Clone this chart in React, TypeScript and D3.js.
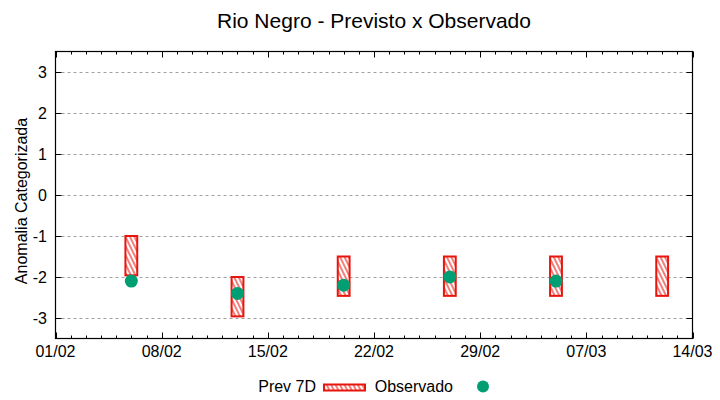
import React, { useEffect, useRef } from 'react';
import * as d3 from 'd3';

// Previsão (caixas) e observado (pontos)
const prevDates = ['06/02/2024', '13/02/2024', '20/02/2024', '27/02/2024', '05/03/2024', '12/03/2024'];
const prevHigh = [-1.0, -2.0, -1.5, -1.5, -1.5, -1.5];
const prevLow = [-1.96, -2.96, -2.46, -2.46, -2.46, -2.46];

const obsDates = ['06/02/2024', '13/02/2024', '20/02/2024', '27/02/2024', '05/03/2024'];
const obsValues = [-2.1, -2.4, -2.2, -2.0, -2.1];

const yTicks = [-3, -2, -1, 0, 1, 2, 3];

const RED = '#e8150d';
const GREEN = '#009e73';
const FONT = '"Liberation Sans", Arial, sans-serif';

const App: React.FC = () => {
  const svgRef = useRef<SVGSVGElement>(null);

  useEffect(() => {
    if (!svgRef.current) return;
    const svg = d3.select(svgRef.current);
    svg.selectAll('*').remove();

    const W = 720;
    const H = 400;
    const m = { left: 55.5, right: 692.5, top: 51.5, bottom: 338.5 };
    const parse = d3.timeParse('%d/%m/%Y');
    const DAY = 86400000;

    const x = d3.scaleTime()
      .domain([parse('01/02/2024')!, parse('14/03/2024')!])
      .range([m.left, m.right]);
    const y = d3.scaleLinear().domain([-3.5, 3.5]).range([m.bottom, m.top]);

    const defs = svg.append('defs');
    const pat = defs.append('pattern')
      .attr('id', 'hatch')
      .attr('patternUnits', 'userSpaceOnUse')
      .attr('width', 4)
      .attr('height', 10)
      .attr('patternTransform', 'rotate(-26)');
    pat.append('rect').attr('width', 4).attr('height', 10).attr('fill', 'white');
    pat.append('line')
      .attr('x1', 1).attr('x2', 1).attr('y1', 0).attr('y2', 10)
      .attr('stroke', RED).attr('stroke-width', 1.1);

    svg.append('rect').attr('width', W).attr('height', H).attr('fill', 'white');

    // title
    svg.append('text')
      .attr('x', (m.left + m.right) / 2)
      .attr('y', 28)
      .attr('text-anchor', 'middle')
      .style('font-family', FONT)
      .style('font-size', '21px')
      .text('Rio Negro - Previsto x Observado');

    // grid
    svg.append('g')
      .selectAll('line')
      .data(yTicks)
      .enter()
      .append('line')
      .attr('x1', m.left)
      .attr('x2', m.right)
      .attr('y1', d => Math.round(y(d)) + 0.5)
      .attr('y2', d => Math.round(y(d)) + 0.5)
      .attr('stroke', '#a0a0a0')
      .attr('stroke-width', 1)
      .attr('stroke-dasharray', '3,3');

    // ticks
    const ticksG = svg.append('g').attr('stroke', 'black').attr('stroke-width', 1);
    const days = d3.timeDay.range(x.domain()[0], d3.timeDay.offset(x.domain()[1], 1));
    days.forEach((d, i) => {
      const len = i % 7 === 0 ? 6 : 3;
      const px = Math.round(x(d)) + 0.5;
      ticksG.append('line').attr('x1', px).attr('x2', px).attr('y1', m.bottom).attr('y2', m.bottom - len);
      ticksG.append('line').attr('x1', px).attr('x2', px).attr('y1', m.top).attr('y2', m.top + len);
    });
    yTicks.forEach(t => {
      const py = Math.round(y(t)) + 0.5;
      ticksG.append('line').attr('x1', m.left).attr('x2', m.left + 6).attr('y1', py).attr('y2', py);
      ticksG.append('line').attr('x1', m.right).attr('x2', m.right - 6).attr('y1', py).attr('y2', py);
    });

    // tick labels
    svg.append('g')
      .selectAll('text')
      .data(yTicks)
      .enter()
      .append('text')
      .attr('x', 47)
      .attr('y', d => y(d) + 6)
      .attr('text-anchor', 'end')
      .style('font-family', FONT)
      .style('font-size', '16px')
      .text(d => String(d));

    const fmt = d3.timeFormat('%d/%m');
    svg.append('g')
      .selectAll('text')
      .data(days.filter((_, i) => i % 7 === 0))
      .enter()
      .append('text')
      .attr('x', d => x(d))
      .attr('y', 357)
      .attr('text-anchor', 'middle')
      .style('font-family', FONT)
      .style('font-size', '16px')
      .text(d => fmt(d));

    // y label
    svg.append('text')
      .attr('transform', 'translate(27, 201) rotate(-90)')
      .attr('text-anchor', 'middle')
      .style('font-family', FONT)
      .style('font-size', '16px')
      .text('Anomalia Categorizada');

    // boxes
    svg.append('g')
      .selectAll('rect')
      .data(prevDates.map((d, i) => ({ date: parse(d)!, hi: prevHigh[i], lo: prevLow[i] })))
      .enter()
      .append('rect')
      .attr('x', d => x(new Date(d.date.getTime() - 0.39 * DAY)))
      .attr('width', d => x(new Date(d.date.getTime() + 0.39 * DAY)) - x(new Date(d.date.getTime() - 0.39 * DAY)))
      .attr('y', d => y(d.hi))
      .attr('height', d => y(d.lo) - y(d.hi))
      .attr('fill', 'url(#hatch)')
      .attr('stroke', RED)
      .attr('stroke-width', 2);

    // observed points
    svg.append('g')
      .selectAll('circle')
      .data(obsDates.map((d, i) => ({ date: parse(d)!, v: obsValues[i] })))
      .enter()
      .append('circle')
      .attr('cx', d => x(d.date))
      .attr('cy', d => y(d.v))
      .attr('r', 6.5)
      .attr('fill', GREEN);

    // border
    svg.append('rect')
      .attr('x', m.left)
      .attr('y', m.top)
      .attr('width', m.right - m.left)
      .attr('height', m.bottom - m.top)
      .attr('fill', 'none')
      .attr('stroke', 'black')
      .attr('stroke-width', 1.2);

    // legend
    const lg = svg.append('g').style('font-family', FONT).style('font-size', '16px');
    lg.append('text').attr('x', 316).attr('y', 392).attr('text-anchor', 'end').text('Prev 7D');
    lg.append('rect')
      .attr('x', 324).attr('y', 384.5).attr('width', 41).attr('height', 6)
      .attr('fill', 'url(#hatch)').attr('stroke', RED).attr('stroke-width', 2);
    lg.append('text').attr('x', 453).attr('y', 392).attr('text-anchor', 'end').text('Observado');
    lg.append('circle').attr('cx', 483).attr('cy', 386.5).attr('r', 6).attr('fill', GREEN);
  }, []);

  return (
    <svg
      ref={svgRef}
      width={720}
      height={400}
      style={{ position: 'absolute', left: 0, top: 0 }}
    ></svg>
  );
};

export default App;
